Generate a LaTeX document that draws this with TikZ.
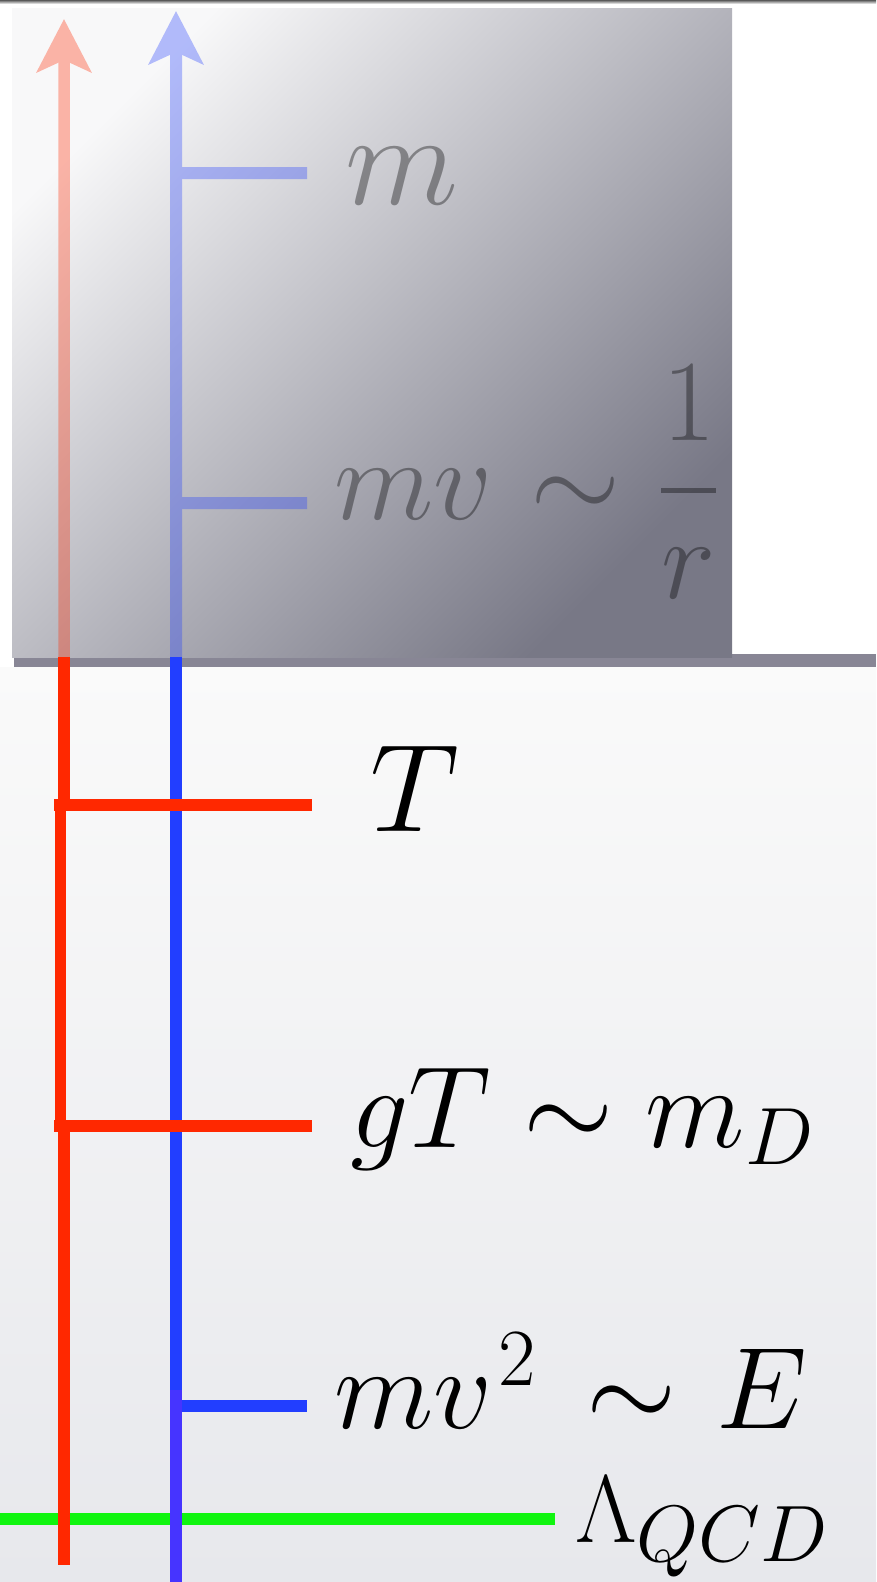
\RequirePackage{fix-cm}
\documentclass[tikz,border=0pt]{standalone}
\usetikzlibrary{arrows.meta}
\definecolor{redl}{RGB}{255,40,0}
\definecolor{bluel}{RGB}{34,62,255}
\definecolor{violetl}{RGB}{70,52,255}
\definecolor{greenl}{RGB}{16,245,16}
\definecolor{barc}{RGB}{136,134,149}
\definecolor{boxtl}{RGB}{248,248,249}
\definecolor{boxbr}{RGB}{120,120,134}
\definecolor{bgtop}{RGB}{250,250,250}
\definecolor{bgbot}{RGB}{231,232,236}
\begin{document}
\begin{tikzpicture}[x=1pt,y=-1pt,line cap=butt,
  rline/.style={draw=redl,line width=11.5pt},
  bline/.style={draw=bluel,line width=12pt},
  gline/.style={draw=greenl,line width=12pt},
  faded/.style={transparency group,opacity=0.33},
  bigtip/.style={-{Stealth[length=53pt,width=54pt,inset=12pt]}},
  lab/.style={anchor=base west,inner sep=0pt,font=\fontsize{116}{120}\selectfont},
  ghost/.style={text opacity=0.36}]
\useasboundingbox (0,0) rectangle (876,1582);
% background
\fill[white] (0,0) rectangle (876,667);
\shade[top color=bgtop,bottom color=bgbot] (0,667) rectangle (876,1582);
\shade[top color=black!65,bottom color=white] (0,0) rectangle (876,4);
% bar and box
\fill[barc] (14,654) rectangle (876,667);
\shade[top color=boxtl,bottom color=boxbr,shading angle=45] (12,8) rectangle (732,657);
% coordinates
\coordinate (rtip) at (64,19);
\coordinate (rbox) at (64,657);
\coordinate (btip) at (176,11);
\coordinate (bbox) at (176,657);
\coordinate (bm1) at (182,173);   \coordinate (bm2) at (307,173);
\coordinate (bv1) at (182,503);   \coordinate (bv2) at (307,503);
% faded upper part
\begin{scope}[faded]
  \draw[rline,bigtip] (rbox) -- (rtip);
\end{scope}
\begin{scope}[faded]
  \draw[bline,bigtip] (bbox) -- (btip);
  \draw[bline] (bm1) -- (bm2);
  \draw[bline] (bv1) -- (bv2);
\end{scope}
\node[lab,ghost,font=\fontsize{132}{136}\selectfont] (lm) at (345,204) {$m$};
\node[lab,ghost] (lmv) at (334,519)
  {$mv\kern6pt\sim\kern7pt{\displaystyle{1\above 5pt r}}$};
% lower part
\coordinate (g1) at (0,1519);     \coordinate (g2) at (555,1519);
\draw[gline] (g1) -- (g2);
\coordinate (bviol) at (176,1390);
\coordinate (bbot) at (176,1582);
\coordinate (be1) at (170,1406); \coordinate (be2) at (307,1406);
\draw[bline] (bbox) -- (bviol);
\draw[bline] (be1) -- (be2);
\draw[bline,draw=violetl] (bviol) -- (bbot);
\coordinate (rT) at (64,811);
\coordinate (rm1) at (60.5,799);  \coordinate (rm2) at (60.5,1132);
\coordinate (rg) at (64,1120);    \coordinate (rbot) at (64,1565);
\draw[rline] (rbox) -- (rT);
\draw[rline] (rm1) -- (rm2);
\draw[rline] (rg) -- (rbot);
\coordinate (t1) at (54,805);  \coordinate (t2) at (312,805);
\coordinate (d1) at (54,1126); \coordinate (d2) at (312,1126);
\draw[rline] (t1) -- (t2);
\draw[rline] (d1) -- (d2);
% labels
\node[lab,font=\fontsize{125}{130}\selectfont] (lT) at (370,831) {$T$};
\node[lab] (lgT) at (350,1147) {$gT\sim m_D$};
\node[lab] (lE) at (334,1428) {$mv^{\kern6pt 2}\kern18pt\sim\kern7pt E$};
\node[lab,font=\fontsize{96}{100}\selectfont] (lL) at (575,1542)
  {$\Lambda$\raisebox{-19pt}{\fontsize{80}{84}\selectfont$QCD$}};
\end{tikzpicture}
\end{document}
